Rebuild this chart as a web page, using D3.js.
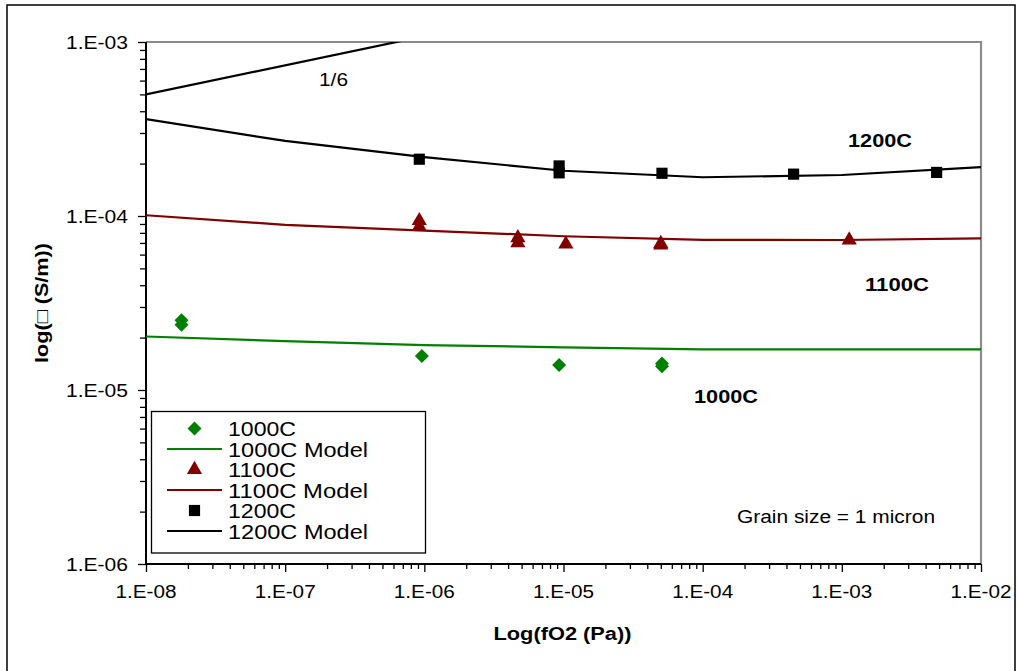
<!DOCTYPE html>
<html>
<head>
<meta charset="utf-8">
<script src="https://cdn.jsdelivr.net/npm/d3@7"></script>
<style>
  html, body { margin: 0; padding: 0; background: #fff; }
  svg { display: block; font-family: "Liberation Sans", Arial, sans-serif; }
  svg text { font-family: "Liberation Sans", Arial, sans-serif; fill: #000; }
</style>
</head>
<body>
<svg id="chart" width="1018" height="671"></svg>
<script>
// Oxygen fugacity (Pa) and conductivity (S/m) for each temperature
const xTickLabels = ["1.E-08", "1.E-07", "1.E-06", "1.E-05", "1.E-04", "1.E-03", "1.E-02"];
const yTickLabels = ["1.E-06", "1.E-05", "1.E-04", "1.E-03"];

const fO2_1000 = [1.8e-8, 1.8e-8, 9.6e-7, 9.3e-6, 5.1e-5, 5.1e-5];
const sig_1000 = [2.52e-5, 2.37e-5, 1.57e-5, 1.39e-5, 1.42e-5, 1.37e-5];

const fO2_1100 = [9.2e-7, 9.2e-7, 4.7e-6, 4.7e-6, 1.04e-5, 5.0e-5, 5.0e-5, 1.13e-3];
const sig_1100 = [9.4e-5, 8.7e-5, 7.5e-5, 7.0e-5, 6.9e-5, 6.95e-5, 6.8e-5, 7.28e-5];

const fO2_1200 = [9.2e-7, 9.3e-6, 9.3e-6, 5.1e-5, 4.5e-4, 4.8e-3];
const sig_1200 = [2.12e-4, 1.94e-4, 1.77e-4, 1.76e-4, 1.74e-4, 1.78e-4];

const fO2_model = [1e-8, 1e-7, 1e-6, 1e-5, 1e-4, 1e-3, 1e-2];
const model_1000 = [2.03e-5, 1.91e-5, 1.81e-5, 1.76e-5, 1.71e-5, 1.71e-5, 1.71e-5];
const model_1100 = [1.01e-4, 8.9e-5, 8.25e-5, 7.65e-5, 7.3e-5, 7.28e-5, 7.43e-5];
const model_1200 = [3.6e-4, 2.7e-4, 2.18e-4, 1.82e-4, 1.67e-4, 1.72e-4, 1.91e-4];

// reference slope line (sigma ~ fO2^(1/6))
const slopeX = [1e-8, 1e-6];
const slopeY = [5.0e-4, 1.08e-3];

const GREEN = "#008000", RED = "#800000", BLACK = "#000000";

const svg = d3.select("#chart");
const L = 146, R = 981, T = 42, B = 564;

const x = d3.scaleLog().domain([1e-8, 1e-2]).range([L, R]);
const y = d3.scaleLog().domain([1e-6, 1e-3]).range([B, T]);

// outer frame
svg.append("rect").attr("x", 7).attr("y", 5).attr("width", 1008).attr("height", 680)
  .attr("fill", "none").attr("stroke", "#000").attr("stroke-width", 1.5);

// plot frame: grey top & right
svg.append("path")
  .attr("d", `M${L},${T}H${R}V${B}`)
  .attr("fill", "none").attr("stroke", "#8c8c8c").attr("stroke-width", 2.2);

svg.append("defs").append("clipPath").attr("id", "plotclip")
  .append("rect").attr("x", L).attr("y", T).attr("width", R - L).attr("height", B - T);

// tick values: decades (major) and 2..9 (minor)
function minorTicks(lo, hi) {
  const out = [];
  for (let e = lo; e < hi; e++) for (let m = 2; m <= 9; m++) out.push(m * Math.pow(10, e));
  return out;
}
const xMajor = d3.range(-8, -1).map(e => Math.pow(10, e));
const yMajor = d3.range(-6, -2).map(e => Math.pow(10, e));

// x axis
const gx = svg.append("g").attr("transform", `translate(0,${B})`);
gx.append("g").call(d3.axisBottom(x).tickValues(minorTicks(-8, -2)).tickSize(5).tickFormat(""))
  .call(g => g.select(".domain").remove());
gx.append("g").call(d3.axisBottom(x).tickValues(xMajor).tickSize(8).tickFormat(""))
  .call(g => g.select(".domain").remove());
gx.selectAll("line").attr("stroke", "#000").attr("stroke-width", 1.3);
gx.append("g").selectAll("text").data(xMajor).enter().append("text")
  .attr("x", d => x(d)).attr("y", 34)
  .attr("text-anchor", "middle").attr("font-size", 17.5)
  .attr("textLength", 61).attr("lengthAdjust", "spacingAndGlyphs")
  .text((d, i) => xTickLabels[i]);

// y axis
const gy = svg.append("g").attr("transform", `translate(${L},0)`);
gy.append("g").call(d3.axisLeft(y).tickValues(minorTicks(-6, -3)).tickSize(6).tickFormat(""))
  .call(g => g.select(".domain").remove());
gy.append("g").call(d3.axisLeft(y).tickValues(yMajor).tickSize(8).tickFormat(""))
  .call(g => g.select(".domain").remove());
gy.selectAll("line").attr("stroke", "#000").attr("stroke-width", 1.3);
gy.append("g").selectAll("text").data(yMajor).enter().append("text")
  .attr("x", -18).attr("y", d => y(d) + 6.5)
  .attr("text-anchor", "end").attr("font-size", 17.5)
  .attr("textLength", 62).attr("lengthAdjust", "spacingAndGlyphs")
  .text((d, i) => yTickLabels[i]);

// axis lines
svg.append("path").attr("d", `M${L},${T}V${B}H${R}`)
  .attr("fill", "none").attr("stroke", "#000").attr("stroke-width", 2);

// axis titles
svg.append("text").attr("x", (L + R) / 2 - 1).attr("y", 640)
  .attr("text-anchor", "middle").attr("font-size", 17.5).attr("font-weight", "bold")
  .attr("textLength", 138).attr("lengthAdjust", "spacingAndGlyphs")
  .text("Log(fO2 (Pa))");
svg.append("text").attr("transform", "translate(48,303) rotate(-90)")
  .attr("text-anchor", "middle").attr("font-size", 17.5).attr("font-weight", "bold")
  .attr("textLength", 120).attr("lengthAdjust", "spacingAndGlyphs")
  .text("log(\u25A1 (S/m))");

// model curves
const plot = svg.append("g").attr("clip-path", "url(#plotclip)");
const line = d3.line().x(d => x(d[0])).y(d => y(d[1]));
function drawLine(xs, ys, color) {
  plot.append("path").datum(xs.map((v, i) => [v, ys[i]]))
    .attr("d", line).attr("fill", "none").attr("stroke", color).attr("stroke-width", 2.2);
}
drawLine(fO2_model, model_1000, GREEN);
drawLine(fO2_model, model_1100, RED);
drawLine(fO2_model, model_1200, BLACK);
drawLine(slopeX, slopeY, BLACK);

// markers
const diamond = d3.symbol().type(d3.symbolSquare).size(98);
const triangle = d3.symbol().type(d3.symbolTriangle).size(100);
const square = d3.symbol().type(d3.symbolSquare).size(125);

function drawPoints(xs, ys, sym, color, rot) {
  svg.append("g").selectAll("path").data(xs.map((v, i) => [v, ys[i]])).enter().append("path")
    .attr("d", sym)
    .attr("transform", d => `translate(${x(d[0])},${y(d[1])})` + (rot ? " rotate(45)" : ""))
    .attr("fill", color);
}
drawPoints(fO2_1000, sig_1000, diamond, GREEN, true);
drawPoints(fO2_1100, sig_1100, triangle, RED, false);
drawPoints(fO2_1200, sig_1200, square, BLACK, false);

// annotations
function label(txt, xx, yy, w, bold, size) {
  svg.append("text").attr("x", xx).attr("y", yy)
    .attr("font-size", size).attr("font-weight", bold ? "bold" : "normal")
    .attr("textLength", w).attr("lengthAdjust", "spacingAndGlyphs")
    .text(txt);
}
label("1200C", 848, 147, 64, true, 18);
label("1100C", 865, 291, 64, true, 18);
label("1000C", 694, 403, 64, true, 18);
label("1/6", 319, 86, 29, false, 18);
label("Grain size = 1 micron", 737, 523, 198, false, 18);

// legend
const legend = svg.append("g");
legend.append("rect").attr("x", 151.5).attr("y", 411.5).attr("width", 274).attr("height", 141.5)
  .attr("fill", "#fff").attr("stroke", "#000").attr("stroke-width", 1.3);
const legItems = [
  { name: "1000C", kind: "diamond", color: GREEN },
  { name: "1000C Model", kind: "line", color: GREEN },
  { name: "1100C", kind: "triangle", color: RED },
  { name: "1100C Model", kind: "line", color: RED },
  { name: "1200C", kind: "square", color: BLACK },
  { name: "1200C Model", kind: "line", color: BLACK }
];
const rowY = i => 428.5 + i * 20.5;
legItems.forEach((it, i) => {
  const cy = rowY(i);
  if (it.kind === "line") {
    legend.append("line").attr("x1", 167).attr("x2", 222).attr("y1", cy).attr("y2", cy)
      .attr("stroke", it.color).attr("stroke-width", 2.2);
  } else {
    const sym = it.kind === "diamond" ? diamond : it.kind === "triangle" ? triangle : square;
    legend.append("path").attr("d", sym)
      .attr("transform", `translate(194.5,${cy})` + (it.kind === "diamond" ? " rotate(45)" : ""))
      .attr("fill", it.color);
  }
  legend.append("text").attr("x", 228).attr("y", cy + 7.5)
    .attr("font-size", 20)
    .attr("textLength", it.kind === "line" ? 140 : 68).attr("lengthAdjust", "spacingAndGlyphs")
    .text(it.name);
});
</script>
</body>
</html>
